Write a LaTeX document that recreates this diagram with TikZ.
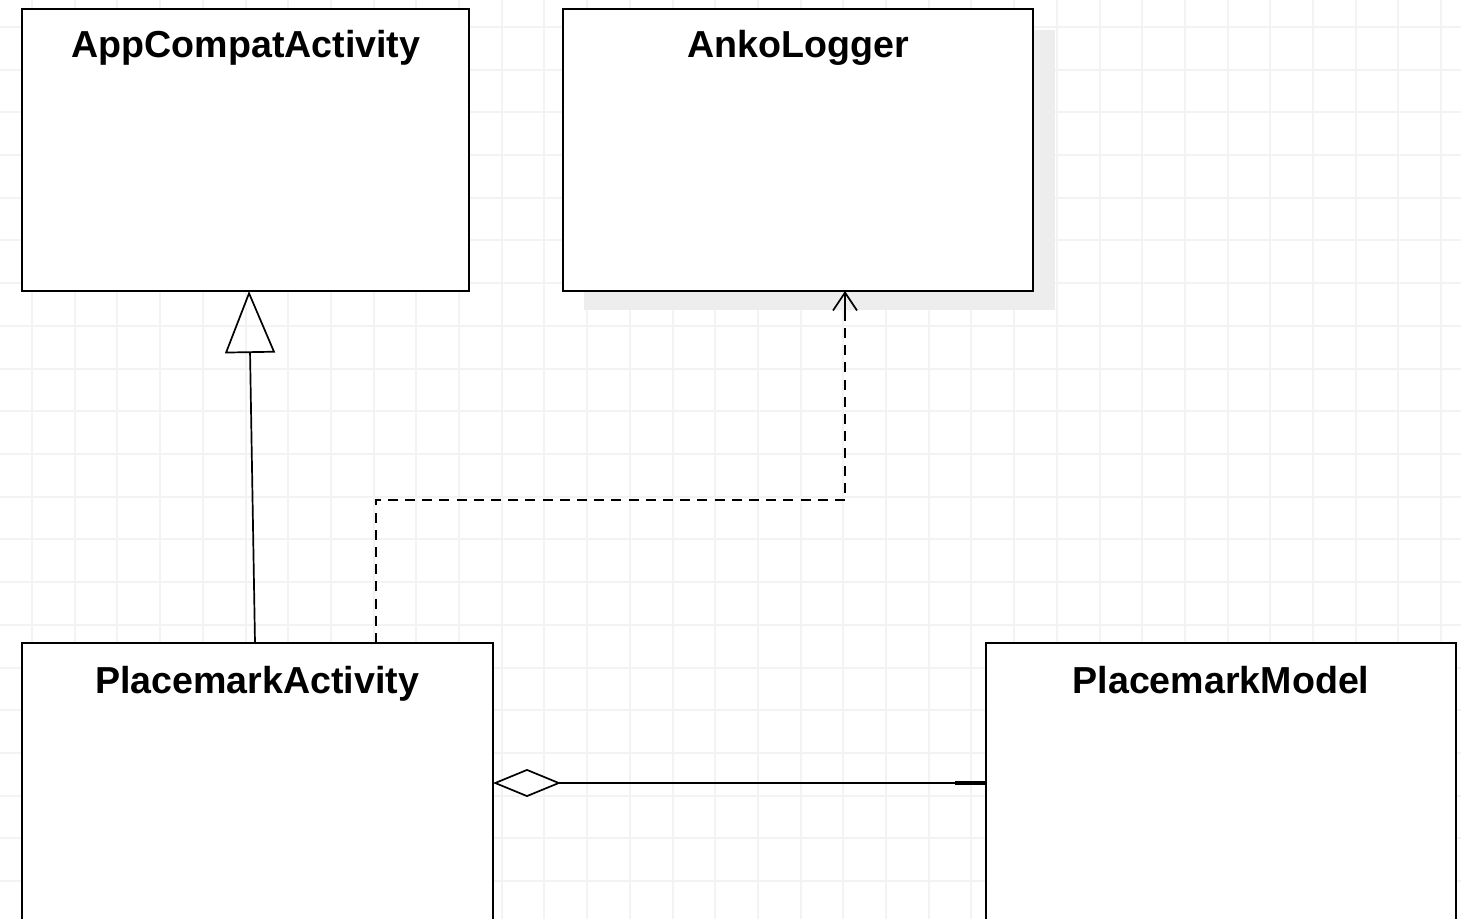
\documentclass[tikz,border=0pt]{standalone}
\usepackage{fontspec}
\setmainfont{Liberation Sans}
\usetikzlibrary{arrows.meta}
\definecolor{gridc}{HTML}{F3F3F3}
\definecolor{shadowc}{HTML}{EDEDED}
\tikzset{
  classbox/.style={draw=black, line width=1pt, fill=white, inner sep=0pt},
  ctitle/.style={font=\fontsize{18.8}{22}\selectfont\bfseries, inner sep=0pt, anchor=base},
  conn/.style={line width=0.85pt, black},
  dep/.style={conn, dash pattern=on 5pt off 3.6pt},
}
\begin{document}
\begin{tikzpicture}[x=0.5pt, y=-0.5pt]
\useasboundingbox (0,0) rectangle (1461,919);
\fill[white] (0,0) rectangle (1461,919);
% grid
\foreach \i in {0,...,33} {
  \draw[gridc, line width=1pt] ({32+\i*42.7},0) -- ({32+\i*42.7},919);
}
\foreach \j in {0,...,21} {
  \draw[gridc, line width=1pt] (0,{27+\j*42.7}) -- (1461,{27+\j*42.7});
}
% shadow of AnkoLogger
\fill[shadowc] (584,30) rectangle (1055,310);
% boxes
\draw[classbox] (22,9) rectangle (469,291);
\node[ctitle] (t1) at (246,58) {AppCompatActivity};
\draw[classbox] (563,9) rectangle (1033,291);
\node[ctitle] (t2) at (798,58) {AnkoLogger};
\draw[classbox] (22,643) rectangle (493,935);
\node[ctitle] (t3) at (257,693) {PlacemarkActivity};
\draw[classbox] (986,643) rectangle (1456,935);
\node[ctitle] (t4) at (1221,693) {PlacemarkModel};
% anchor coordinates
\coordinate (pa-top) at (255,643);
\coordinate (ac-bot) at (249,291);
\coordinate (pa-top2) at (376,643);
\coordinate (bend1) at (376,500);
\coordinate (bend2) at (845,500);
\coordinate (al-bot) at (845,291);
\coordinate (pa-right) at (493,783);
\coordinate (pm-left) at (986,783);
% generalization
\draw[conn, -{Triangle[open, length=31pt, width=25pt, line width=0.85pt]}] (pa-top) -- (ac-bot);
% dependency
\draw[dep] (pa-top2) -- (bend1) -- (bend2) -- ([yshift=-1pt]al-bot);
\draw[conn, -{Straight Barb[length=9pt, width=12pt, line width=0.85pt]}] ([yshift=-10pt]al-bot) -- (al-bot);
% aggregation
\draw[conn, {Diamond[open, length=34pt, width=14pt, line width=0.85pt]}-] (pa-right) -- (pm-left);
\draw[line width=1.7pt] (955,783) -- (pm-left);
\end{tikzpicture}
\end{document}
